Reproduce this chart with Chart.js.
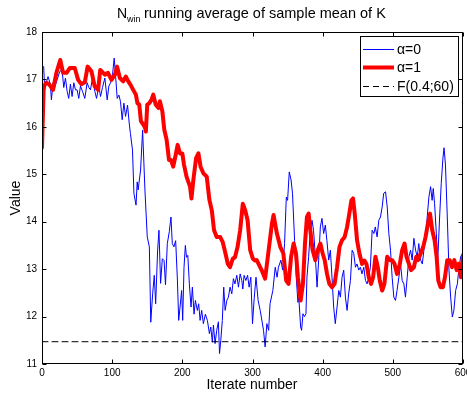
<!DOCTYPE html>
<html>
<head>
<meta charset="utf-8">
<script src="https://cdn.jsdelivr.net/npm/chart.js@4.4.1/dist/chart.umd.min.js"></script>
<style>
  html, body { margin: 0; padding: 0; background: #fff; }
  canvas { display: block; }
</style>
</head>
<body>
<canvas id="chart" width="467" height="393"></canvas>
<script>
// alpha = 0 run (thin blue)
const blueX = [0, 2.4, 3.9, 6.2, 8.6, 11.9, 13.4, 15.8, 18.1, 21.5, 25.3, 28.6, 31, 33.4, 35.8, 38.1, 40.5, 42.9, 45.3, 47.7,
  50, 52.4, 54.8, 57.7, 61, 64.3, 66.7, 69.1, 71.9, 75.3, 77.7, 81, 83.4, 86.2, 89.6, 92.9, 95.3, 98.1, 100.5, 102.9,
  105.3, 107.2, 109.6, 111.9, 114.3, 116.7, 119.1, 121.9, 124.3, 126, 129, 131, 134, 135.7, 137, 140.5, 143.4, 146.7, 150, 153,
  155, 157.7, 160, 162, 164.8, 166.7, 169, 171.5, 174, 176, 178.6, 181.4, 183.8, 185.7, 188, 190.5, 193, 194.8, 196.7, 199,
  200.5, 202.4, 204.3, 206, 207.8, 210, 212.4, 214.3, 216.7, 218.6, 221.4, 223.3, 225.3, 227.6, 230, 232.8, 235.7, 238.6, 240.5, 242.8,
  244.3, 246.7, 249, 251.4, 253, 254.8, 257, 259, 261, 263.4, 265.7, 268, 270.5, 272.8, 275, 277.6, 280, 282.4, 284.8, 286.2,
  288, 290.5, 293, 295.2, 297.6, 300, 302.4, 305, 308, 311, 315.7, 318, 320.5, 323, 325, 329, 332.4, 335, 337, 340.5,
  343, 345.7, 348.2, 350, 352.4, 355, 357, 360, 362, 364.7, 366, 368.6, 370, 371.9, 374, 376.2, 377.6, 380, 382.4, 384.8,
  387, 389.6, 392, 394.3, 396.7, 399, 401.4, 403.8, 406, 408.6, 411, 413.3, 415.7, 418, 420.5, 422.9, 425.3, 427.6, 430, 432.4,
  434.8, 437, 439.6, 442, 444.3, 446.7, 449, 451.4, 453.8, 456, 458.6, 461, 463.3, 465.7, 468, 470.5, 473, 475, 477.6, 480,
  482.4, 484.8, 487, 489.6, 492, 494.3, 496.7, 499, 501.4, 503.8, 506, 508.6, 511, 513.3, 515.7, 518, 520.5, 522.9, 525.3, 527.6,
  530, 532.4, 534.8, 537, 539.6, 542, 544.3, 546.7, 549, 551.4, 553.8, 556, 557.6, 559.5, 562, 564, 566.7, 569, 571.4, 573,
  575, 577.6, 580, 582.4, 584.8, 587, 589.5, 592, 594.3, 596.7, 599];
const blueY = [17.27, 17.27, 16.78, 16.94, 17.06, 16.9, 16.57, 16.93, 16.83, 16.99, 17.17, 17.2, 16.83, 17.03, 16.75, 16.6, 16.9, 16.64, 16.93, 16.78,
  16.78, 16.6, 16.86, 16.75, 16.6, 16.93, 16.83, 16.78, 17.03, 16.75, 16.6, 16.86, 16.64, 16.83, 17.03, 16.57, 16.86, 16.94, 17.1, 17.45,
  16.99, 16.6, 16.67, 16.53, 16.15, 16.5, 16.22, 16.46, 16.08, 15.86, 15.51, 14.6, 14.35, 14.84, 14.67, 15.09, 15.93, 14.67, 13.68, 13.47,
  11.88, 12.48, 12.87, 12.27, 13.4, 13.82, 12.7, 13.22, 13.18, 12.67, 13.54, 13.79, 14.1, 13.54, 13.47, 13.6, 12.77, 11.92, 12.2, 12.55,
  11.92, 13.04, 13.5, 13.25, 13.29, 12.69, 12.2, 12.62, 12.05, 12.34, 12.13, 12.27, 11.92, 12.13, 11.85, 12.05, 11.92, 11.64, 11.78, 11.46,
  11.82, 11.43, 11.71, 11.89, 11.22, 11.5, 11.92, 12.62, 12.13, 12.34, 12.41, 12.62, 12.48, 12.8, 12.69, 12.87, 12.62, 12.9, 12.76, 12.58,
  12.87, 12.76, 12.87, 12.62, 12.83, 11.85, 12.38, 12.83, 12.34, 12.13, 11.71, 11.36, 11.85, 11.71, 12.27, 12.55, 13.04, 12.83, 13.04, 13.19,
  12.98, 13.54, 14.52, 14.45, 15.05, 14.88, 14.6, 13.61, 12.91, 12.3, 12.4, 11.78, 11.71, 12.06, 12.0, 12.06, 12.83, 13.26, 13.82, 14.03,
  13.82, 13.26, 12.62, 13.19, 13.89, 14.07, 13.75, 13.93, 13.61, 13.19, 13.4, 12.83, 12.2, 11.85, 12.2, 12.55, 12.41, 12.83, 12.98, 12.41,
  12.13, 12.48, 12.76, 13.4, 13.33, 13.04, 13.11, 12.98, 13.04, 12.9, 13.04, 12.76, 12.69, 12.83, 13.04, 13.82, 13.75, 13.89, 13.68, 14.03,
  14.1, 14.31, 14.6, 14.63, 14.31, 13.75, 13.4, 12.83, 12.41, 12.34, 12.55, 12.83, 13.11, 12.76, 12.69, 12.41, 12.83, 13.26, 13.4, 13.19,
  13.65, 13.4, 13.26, 13.54, 13.19, 13.11, 13.4, 13.68, 14.1, 14.52, 14.74, 14.45, 14.7, 14.38, 13.75, 13.19, 14.1, 14.81, 15.34, 15.56,
  15.2, 14.1, 12.98, 12.41, 11.99, 12.13, 12.55, 12.69, 13.04, 13.26, 13.33];

// alpha = 1 run (thick red)
const redX = [0, 2.4, 6, 10, 15.7, 20.5, 26, 30, 35, 39.6, 46.7, 51.5, 56, 61, 65, 70.5, 75, 80, 83, 89.6,
  94, 99, 104, 107, 111, 115.7, 119.5, 123, 126, 130, 133.8, 136, 138.6, 141, 144.3, 147, 148, 150, 153, 156,
  158.6, 162, 165.7, 168, 171.5, 174.3, 177.6, 181, 183.8, 187, 190, 193.3, 196.7, 200, 202.4, 206, 211, 213, 215.7, 219.6,
  222.9, 226, 230, 234.8, 238.6, 242, 245.2, 249, 253.8, 257.6, 261, 264.8, 268, 271.9, 275, 278.6, 282.4, 286.2, 289.6, 293,
  296.7, 300.5, 303.8, 306, 313, 318, 323, 327.7, 330, 334.8, 339.6, 344, 348, 351.4, 355, 358.6, 362, 364.7, 368.6, 371.9,
  374.8, 377.6, 380, 382.4, 385.7, 389.6, 392.9, 396.7, 400, 402.9, 406.2, 409.5, 413.3, 417, 420.5, 424, 427.6, 431.4, 434.8, 438,
  441, 443.3, 445.7, 449, 452.4, 456.2, 459.5, 462.4, 465.7, 469, 471.9, 475.2, 478.6, 481.4, 484.8, 488, 492, 495.7, 499, 502.4,
  506, 510, 513.3, 516.7, 519.5, 522.9, 526, 530, 533.3, 536, 539.6, 543.3, 546.7, 550, 553, 556.2, 559.5, 562.4, 564.8, 568,
  571.4, 574.3, 577.6, 581, 584.3, 587.6, 591, 593.8, 597, 600];
const redY = [15.56, 16.85, 16.93, 16.9, 16.78, 17.14, 17.41, 17.14, 17.14, 17.24, 17.24, 16.99, 16.9, 16.94, 17.27, 17.17, 16.86, 16.78, 17.2, 17.1,
  17.14, 16.99, 17.1, 17.27, 17.03, 16.96, 17.06, 16.96, 16.89, 16.78, 16.68, 16.5, 16.47, 16.12, 16.05, 15.98, 15.9, 16.47, 16.5, 16.57,
  16.68, 16.47, 16.4, 16.54, 16.33, 15.94, 15.73, 15.3, 15.3, 15.16, 15.37, 15.62, 15.44, 15.44, 15.2, 14.95, 14.74, 14.49, 14.88, 15.34,
  15.44, 15.16, 15.02, 14.95, 14.46, 14.24, 13.82, 13.68, 13.68, 13.57, 13.36, 13.11, 13.04, 13.22, 13.25, 13.46, 13.82, 14.38, 14.24, 14.03,
  13.4, 13.22, 13.18, 13.19, 12.98, 12.8, 13.4, 13.96, 14.14, 13.75, 13.47, 13.33, 12.76, 12.69, 13.26, 13.54, 13.33, 12.83, 12.34, 12.69,
  13.54, 14.1, 14.17, 13.82, 13.4, 13.19, 13.4, 13.54, 13.33, 13.19, 12.9, 12.69, 12.62, 12.69, 13.04, 13.47, 13.61, 13.68, 13.89, 14.17,
  14.45, 14.49, 14.17, 13.61, 13.33, 13.11, 13.18, 13.11, 12.83, 12.69, 12.83, 13.26, 13.04, 12.76, 12.55, 12.69, 13.26, 13.19, 13.19, 13.11,
  12.9, 13.11, 13.4, 13.54, 13.26, 13.11, 12.98, 13.04, 13.26, 13.19, 13.33, 13.47, 13.68, 13.96, 14.17, 13.82, 13.61, 13.26, 12.76, 12.62,
  12.62, 12.83, 13.19, 13.19, 13.04, 13.19, 12.98, 13.11, 12.83, 13.26];

// F(0.4;60) reference level
const refX = [0, 600];
const refY = [11.47, 11.47];

const xTicks = [0, 100, 200, 300, 400, 500, 600];
const yTicks = [11, 12, 13, 14, 15, 16, 17, 18];

const labels = ['\u03b1=0', '\u03b1=1', 'F(0.4;60)'];

const FONT = "'Liberation Sans', Arial, Helvetica, sans-serif";
const toPoints = (xs, ys) => xs.map((x, i) => ({ x, y: ys[i] }));

// frame, inward ticks, title, axis labels and legend box (MATLAB look)
const decorations = {
  id: 'decorations',
  afterDraw(chart) {
    const { ctx, chartArea: a, scales: { x, y } } = chart;
    const L = a.left + 0.5, R = a.right - 0.5, T = a.top + 0.5, B = a.bottom - 0.5;
    ctx.save();
    ctx.strokeStyle = '#000';
    ctx.lineWidth = 1;
    ctx.strokeRect(L, T, R - L, B - T);

    ctx.beginPath();
    xTicks.forEach(v => {
      const px = Math.round(x.getPixelForValue(v)) + 0.5;
      ctx.moveTo(px, B); ctx.lineTo(px, B - 4);
      ctx.moveTo(px, T); ctx.lineTo(px, T + 4);
    });
    yTicks.forEach(v => {
      const py = Math.round(y.getPixelForValue(v)) + 0.5;
      ctx.moveTo(L, py); ctx.lineTo(L + 4, py);
      ctx.moveTo(R, py); ctx.lineTo(R - 4, py);
    });
    ctx.stroke();

    // title with subscript
    ctx.fillStyle = '#000';
    ctx.textBaseline = 'alphabetic';
    ctx.textAlign = 'left';
    ctx.font = '14px ' + FONT;
    ctx.fillText('N', 117, 18);
    ctx.font = '9px ' + FONT;
    ctx.fillText('win', 127, 22);
    ctx.font = '14.5px ' + FONT;
    ctx.fillText('running average of sample mean of K', 144, 18);

    // axis titles
    ctx.font = '14px ' + FONT;
    ctx.textAlign = 'center';
    ctx.textBaseline = 'middle';
    ctx.fillText('Iterate number', 252, 385);
    ctx.save();
    ctx.translate(16, 198);
    ctx.rotate(-Math.PI / 2);
    ctx.fillText('Value', 0, 0);
    ctx.restore();

    // legend
    const bx = 360.5, by = 36.5, bw = 98, bh = 60;
    ctx.fillStyle = '#fff';
    ctx.fillRect(bx, by, bw, bh);
    ctx.strokeStyle = '#000';
    ctx.lineWidth = 1;
    ctx.strokeRect(bx, by, bw, bh);
    const rows = [49, 67, 86];
    chart.data.datasets.forEach((ds, i) => {
      ctx.strokeStyle = ds.borderColor;
      ctx.lineWidth = ds.borderWidth;
      ctx.setLineDash(ds.borderDash || []);
      ctx.beginPath();
      ctx.moveTo(363, rows[i] + 0.5);
      ctx.lineTo(394, rows[i] + 0.5);
      ctx.stroke();
      ctx.setLineDash([]);
      ctx.fillStyle = '#000';
      ctx.textAlign = 'left';
      ctx.textBaseline = 'middle';
      ctx.font = '14px ' + FONT;
      ctx.fillText(ds.label, 397, rows[i] + 1);
    });
    ctx.restore();
  }
};

new Chart(document.getElementById('chart'), {
  type: 'line',
  data: {
    datasets: [
      {
        label: labels[0],
        data: toPoints(blueX, blueY),
        borderColor: '#0000ff',
        borderWidth: 1,
        order: 2
      },
      {
        label: labels[1],
        data: toPoints(redX, redY),
        borderColor: '#ff0000',
        borderWidth: 4,
        order: 1
      },
      {
        label: labels[2],
        data: toPoints(refX, refY),
        borderColor: '#000',
        borderWidth: 1,
        borderDash: [6, 4],
        order: 0
      }
    ]
  },
  options: {
    responsive: false,
    animation: false,
    devicePixelRatio: 1,
    layout: { padding: { top: 32, right: 4, left: 0, bottom: 0 } },
    elements: {
      point: { radius: 0 },
      line: { tension: 0, borderJoinStyle: 'round', borderCapStyle: 'round' }
    },
    plugins: {
      legend: { display: false },
      title: { display: false },
      tooltip: { enabled: false }
    },
    scales: {
      x: {
        type: 'linear',
        min: 0,
        max: 600,
        afterBuildTicks: s => { s.ticks = xTicks.map(v => ({ value: v })); },
        ticks: { color: '#000', font: { size: 10, family: FONT }, padding: 3, maxRotation: 0 },
        grid: { display: false, drawTicks: false, tickLength: 0 },
        border: { display: false },
        afterFit: s => { s.height = 29; s.paddingLeft = 0; s.paddingRight = 0; }
      },
      y: {
        type: 'linear',
        min: 11,
        max: 18,
        afterBuildTicks: s => { s.ticks = yTicks.map(v => ({ value: v })); },
        ticks: { color: '#000', font: { size: 10, family: FONT }, padding: 5 },
        grid: { display: false, drawTicks: false, tickLength: 0 },
        border: { display: false },
        afterFit: s => { s.width = 42; s.paddingTop = 0; s.paddingBottom = 0; }
      }
    }
  },
  plugins: [decorations]
});
</script>
</body>
</html>
